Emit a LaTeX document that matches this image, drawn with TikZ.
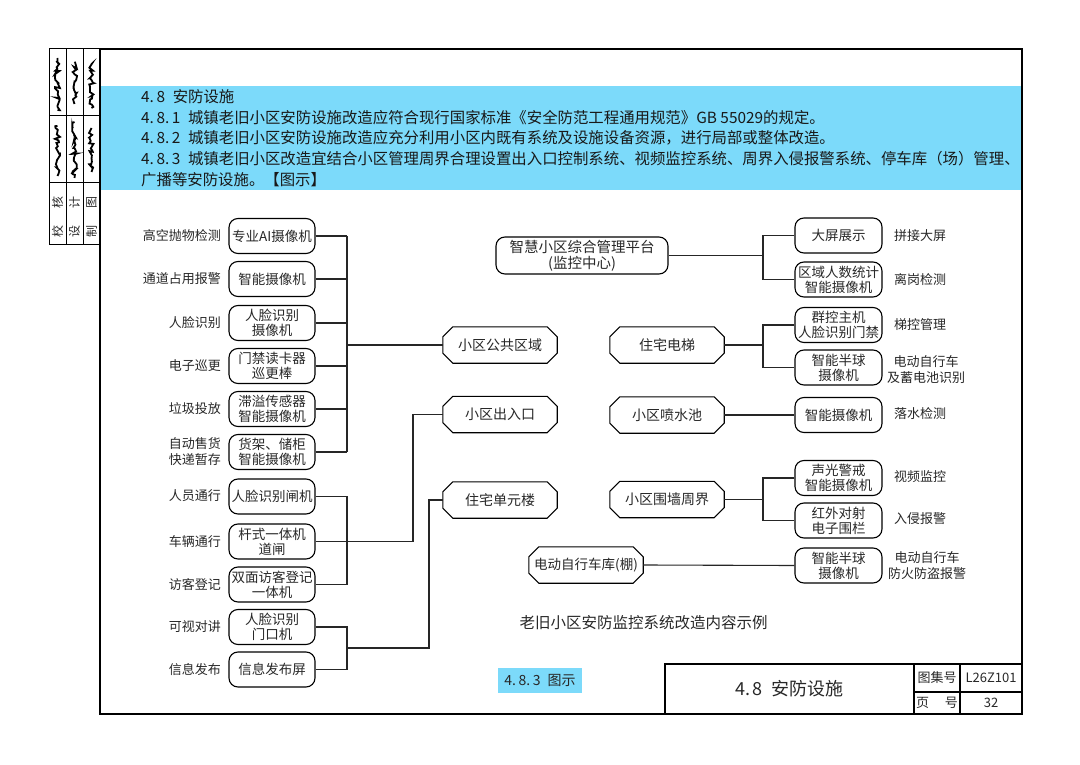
\documentclass[tikz,border=0pt]{standalone}
\usepackage{fontspec}
\setmainfont{Noto Sans CJK SC}
\usetikzlibrary{calc,decorations.pathmorphing}
\definecolor{hdrblue}{RGB}{124,218,250}
\definecolor{txt}{RGB}{40,40,40}
\newcommand\nsp{\hspace{2.5pt}}
\begin{document}
\begin{tikzpicture}[x=1pt,y=-1pt,
  every node/.style={text=txt},
  lbox/.style={draw=black, line width=1.1pt, rounded corners=9pt, minimum width=86pt, minimum height=35pt, inner sep=0pt, align=center, font=\fontsize{13.5}{15}\selectfont},
  rbox/.style={lbox, minimum width=87pt},
  octo/.style={minimum width=114pt, minimum height=36pt, inner sep=0pt, font=\fontsize{14}{16}\selectfont},
  lab/.style={font=\fontsize{13}{16}\selectfont, inner sep=0pt},
  hdr/.style={anchor=west, inner sep=0pt, font=\fontsize{15.4}{17}\selectfont, text=black!90},
  conn/.style={line width=1.1pt, draw=black!85},
  sig/.style={line width=1.8pt, decorate, decoration={random steps, segment length=2pt, amplitude=2.6pt}},
]
\useasboundingbox (0,0) rectangle (1080,765);
\fill[white] (0,0) rectangle (1080,765);

% header band
\fill[hdrblue] (100,86) rectangle (1022,190);
\node[hdr] (h0) at (141,97) {4.\nsp8\enspace 安防设施};
\node[hdr] (h1) at (141,117.5) {4.\nsp8.\nsp1\enspace 城镇老旧小区安防设施改造应符合现行国家标准《安全防范工程通用规范》GB 55029的规定。};
\node[hdr] (h2) at (141,138) {4.\nsp8.\nsp2\enspace 城镇老旧小区安防设施改造应充分利用小区内既有系统及设施设备资源，进行局部或整体改造。};
\node[hdr] (h3) at (141,159) {4.\nsp8.\nsp3\enspace 城镇老旧小区改造宜结合小区管理周界合理设置出入口控制系统、视频监控系统、周界入侵报警系统、停车库（场）管理、};
\node[hdr] (h4) at (141,179.5) {广播等安防设施。【图示】};

% page frame
\draw[line width=2.2pt] (100,49) rectangle (1022,714);

% left strip
\draw[line width=1pt] (49,49) rectangle (100,244);
\draw[line width=1pt] (66,49) -- (66,244) (83,49) -- (83,244) (49,116) -- (100,116) (49,183) -- (100,183);
\foreach \cx/\a/\b in {57.5/校/核, 74.5/设/计, 91.5/制/图}{
  \node[rotate=90, inner sep=0pt, font=\fontsize{12}{12}\selectfont] at (\cx,231) {\a};
  \node[rotate=90, inner sep=0pt, font=\fontsize{12}{12}\selectfont] at (\cx,203) {\b};
}
\draw[sig] (57.5,110) -- (57.5,58);
\draw[sig] (74.5,104) -- (74.5,62);
\draw[sig] (91.5,108) -- (91.5,64);
\draw[sig] (57.5,176) -- (57.5,126);
\draw[sig] (74.5,178) -- (74.5,122);
\draw[sig] (91.5,172) -- (91.5,128);

% left labels
\node[lab, anchor=east] (l1) at (221,236) {高空抛物检测};
\node[lab, anchor=east] (l2) at (221,279) {通道占用报警};
\node[lab, anchor=east] (l3) at (221,323) {人脸识别};
\node[lab, anchor=east] (l4) at (221,366) {电子巡更};
\node[lab, anchor=east] (l5) at (221,409) {垃圾投放};
\node[lab, anchor=east, align=right] (l6) at (221,452) {自动售货\\快递暂存};
\node[lab, anchor=east] (l7) at (221,496) {人员通行};
\node[lab, anchor=east] (l8) at (221,541.5) {车辆通行};
\node[lab, anchor=east] (l9) at (221,584.5) {访客登记};
\node[lab, anchor=east] (l10) at (221,627) {可视对讲};
\node[lab, anchor=east] (l11) at (221,669.5) {信息发布};

% left boxes
\node[lbox] (b1) at (272,236) {专业AI摄像机};
\node[lbox] (b2) at (272,279) {智能摄像机};
\node[lbox] (b3) at (272,323) {人脸识别\\摄像机};
\node[lbox] (b4) at (272,366) {门禁读卡器\\巡更棒};
\node[lbox] (b5) at (272,409) {滞溢传感器\\智能摄像机};
\node[lbox] (b6) at (272,452) {货架、储柜\\智能摄像机};
\node[lbox] (b7) at (272,496.5) {人脸识别闸机};
\node[lbox] (b8) at (272,541.5) {杆式一体机\\道闸};
\node[lbox] (b9) at (272,584.5) {双面访客登记\\一体机};
\node[lbox] (b10) at (272,627) {人脸识别\\门口机};
\node[lbox] (b11) at (272,669.5) {信息发布屏};

% octagon nodes
\node[octo] (pub) at (500,345) {小区公共区域};
\node[octo] (ent) at (500,414.5) {小区出入口};
\node[octo] (unit) at (500,500) {住宅单元楼};
\node[octo] (elev) at (667,345) {住宅电梯};
\node[octo] (pool) at (667,415) {小区喷水池};
\node[octo] (wall) at (667,499.5) {小区围墙周界};
\node[octo, font=\fontsize{13.5}{16}\selectfont] (garage) at (586,565) {电动自行车库(棚)};
\foreach \n in {pub,ent,unit,elev,pool,wall,garage}{
  \draw[line width=1.1pt] ($(\n.north west)+(10pt,0pt)$) -- ($(\n.north east)+(-10pt,0pt)$) -- ($(\n.north east)+(0pt,-10pt)$) -- ($(\n.south east)+(0pt,10pt)$) -- ($(\n.south east)+(-10pt,0pt)$) -- ($(\n.south west)+(10pt,0pt)$) -- ($(\n.south west)+(0pt,10pt)$) -- ($(\n.north west)+(0pt,-10pt)$) -- cycle;
}

% platform
\node[lbox, minimum width=172pt, minimum height=37pt, font=\fontsize{14.5}{16}\selectfont] (plat) at (582,255.5) {智慧小区综合管理平台\\(监控中心)};

% right boxes
\node[rbox] (r1) at (838.5,235.5) {大屏展示};
\node[rbox] (r2) at (838.5,279.5) {区域人数统计\\智能摄像机};
\node[rbox] (r3) at (838.5,325) {群控主机\\人脸识别门禁};
\node[rbox] (r4) at (838.5,367.5) {智能半球\\摄像机};
\node[rbox] (r5) at (838.5,415) {智能摄像机};
\node[rbox] (r6) at (838.5,478) {声光警戒\\智能摄像机};
\node[rbox] (r7) at (838.5,520.5) {红外对射\\电子围栏};
\node[rbox] (r8) at (838.5,565.5) {智能半球\\摄像机};

% right labels
\node[lab, anchor=west] (q1) at (894,235.5) {拼接大屏};
\node[lab, anchor=west] (q2) at (894,279.5) {离岗检测};
\node[lab, anchor=west] (q3) at (894,325) {梯控管理};
\node[lab, align=center] (q4) at (926,369.5) {电动自行车\\及蓄电池识别};
\node[lab, anchor=west] (q5) at (894,414) {落水检测};
\node[lab, anchor=west] (q6) at (894,477) {视频监控};
\node[lab, anchor=west] (q7) at (894,519) {入侵报警};
\node[lab, align=center] (q8) at (927,566) {电动自行车\\防火防盗报警};

% connectors left
\coordinate (busA) at (347,0);
\coordinate (busE) at (413,0);
\coordinate (busU) at (429,0);
\foreach \i in {1,...,6} \draw[conn] (b\i.east) -- (b\i.east -| busA);
\draw[conn] (b1.east -| busA) -- (b6.east -| busA);
\draw[conn] (pub.west -| busA) -- (pub.west);
\draw[conn] (b7.east) -- (b7.east -| busA) -- (b9.east -| busA) -- (b9.east);
\draw[conn] (b8.east) -- (b8.east -| busE) -- (ent.west -| busE) -- (ent.west);
\draw[conn] (b10.east) -- (b10.east -| busA) -- (b11.east -| busA) -- (b11.east);
\coordinate (jc) at (347,648);
\draw[conn] (jc) -- (jc -| busU) -- (unit.west -| busU) -- (unit.west);

% connectors right
\coordinate (busR) at (763,0);
\draw[conn] (plat.east) -- (plat.east -| busR);
\draw[conn] (r1.west) -- (r1.west -| busR) -- (r2.west -| busR) -- (r2.west);
\draw[conn] (elev.east) -- (elev.east -| busR);
\draw[conn] (r3.west) -- (r3.west -| busR) -- (r4.west -| busR) -- (r4.west);
\draw[conn] (pool.east) -- (r5.west);
\draw[conn] (wall.east) -- (wall.east -| busR);
\draw[conn] (r6.west) -- (r6.west -| busR) -- (r7.west -| busR) -- (r7.west);
\draw[conn] (garage.east) -- (r8.west);

% caption
\node[inner sep=0pt, font=\fontsize{15.5}{17}\selectfont] (cap) at (643.5,623) {老旧小区安防监控系统改造内容示例};
\node[fill=hdrblue, minimum width=84pt, minimum height=25pt, inner sep=0pt, font=\fontsize{14}{16}\selectfont] (fig) at (540,680) {4.\nsp8.\nsp3\enspace 图示};

% title block
\draw[line width=1.1pt] (665,664) rectangle (1022,714);
\draw[line width=1.1pt] (914,664) -- (914,714) (960,664) -- (960,714) (914,692) -- (1022,692);
\node[inner sep=0pt, font=\fontsize{18}{20}\selectfont] (ttl) at (789.5,689) {4.\nsp8\enspace 安防设施};
\node[inner sep=0pt, font=\fontsize{13}{15}\selectfont] (t1) at (937,678) {图集号};
\node[inner sep=0pt, font=\fontsize{13}{15}\selectfont] (t2) at (991,678) {L26Z101};
\node[inner sep=0pt, font=\fontsize{13}{15}\selectfont] (t3) at (937,703) {页\hspace{1.2em}号};
\node[inner sep=0pt, font=\fontsize{13}{15}\selectfont] (t4) at (991,703) {32};
\end{tikzpicture}
\end{document}
